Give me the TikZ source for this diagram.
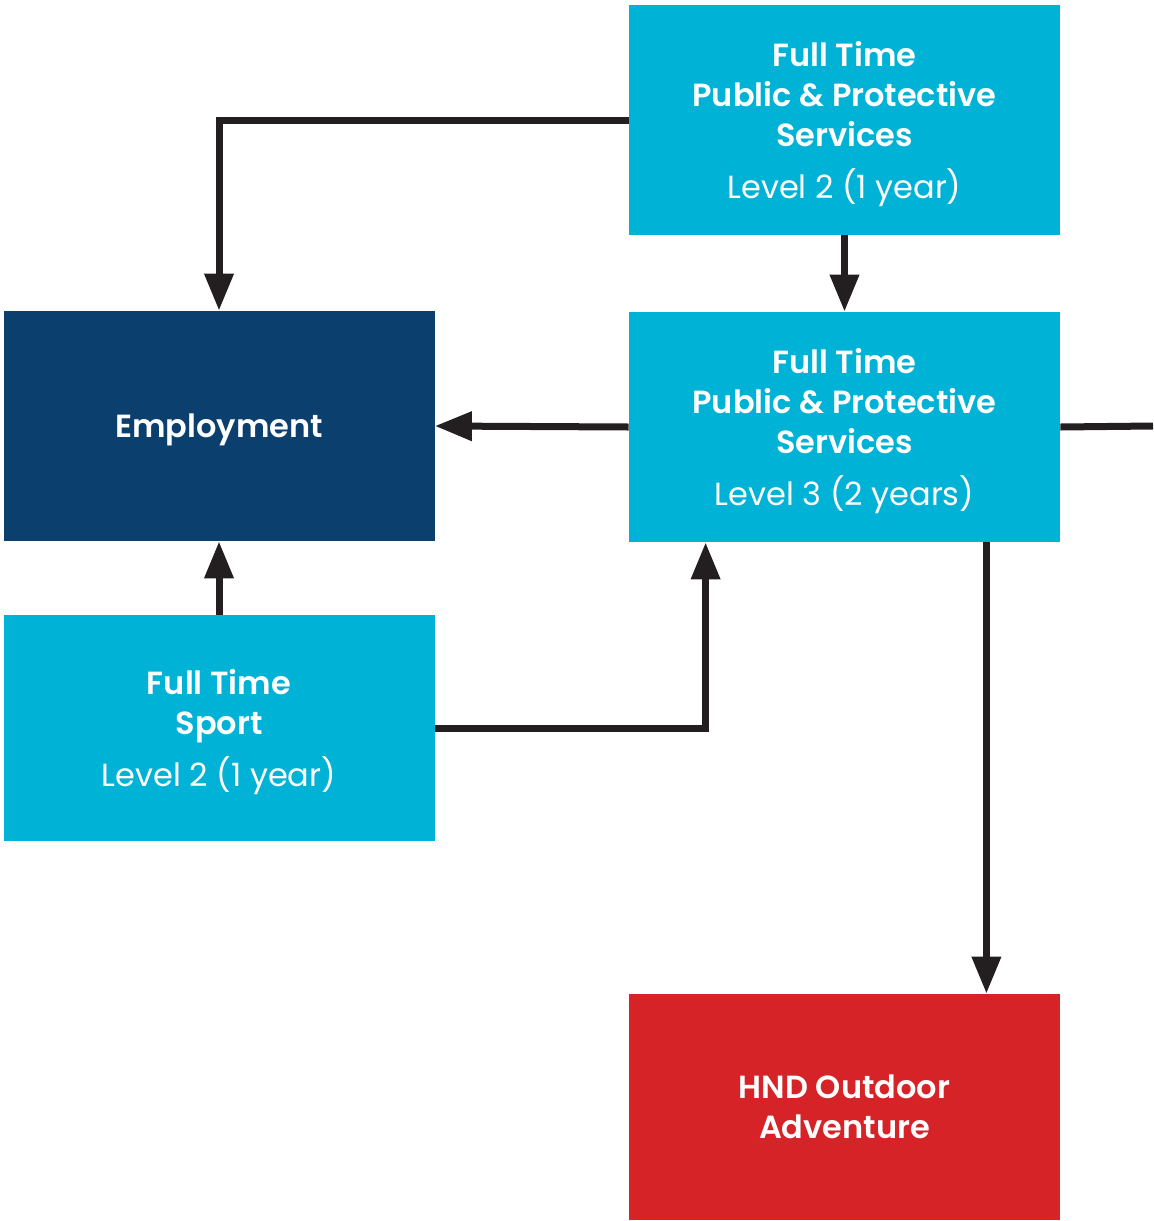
\documentclass[tikz,border=0pt]{standalone}
\usepackage{fontspec}
\setmainfont{Poppins}[BoldFont={Poppins SemiBold}]
\usetikzlibrary{arrows.meta}
\definecolor{boxcyan}{RGB}{0,179,214}
\definecolor{boxnavy}{RGB}{10,63,110}
\definecolor{boxred}{RGB}{213,35,40}
\definecolor{linedark}{RGB}{35,31,32}
\begin{document}
\begin{tikzpicture}[x=0.5pt,y=-0.5pt,
  box/.style={rectangle, draw=none, text=white, align=center, inner sep=0pt,
    minimum width=215.5pt, text depth=-1pt, font=\fontsize{16}{20}\selectfont\bfseries},
  course/.style={box, fill=boxcyan, minimum height=115pt},
  goal/.style={box, fill=boxnavy, minimum height=115pt},
  award/.style={box, fill=boxred, minimum height=113pt},
  flow/.style={draw=linedark, line width=3.5pt, -{Triangle[length=18.5pt,width=14pt]}},
  link/.style={draw=linedark, line width=3.5pt}]
\useasboundingbox (0,0) rectangle (1153,1221);
\node [course] (l2pps) at (844.5,120) {Full Time\\Public \& Protective\\Services\\[6pt]{\mdseries Level 2 (1 year)}};
\node [course] (l3pps) at (844.5,427) {Full Time\\Public \& Protective\\Services\\[6pt]{\mdseries Level 3 (2 years)}};
\node [goal] (emp) at (219,426) {Employment};
\node [course, minimum height=113pt] (sport) at (219,728) {Full Time\\Sport\\[6pt]{\mdseries Level 2 (1 year)}};
\node [award] (hnd) at (844.5,1107) {HND Outdoor\\Adventure};
\coordinate (offright) at (1153,426);
\draw [flow] (l2pps.west) -| (emp.north);
\draw [flow] (l2pps.south) -- (l3pps.north);
\draw [flow] (l3pps.west) -- (emp.east);
\draw [link] (l3pps.east) -- (offright);
\draw [flow] (sport.north) -- (emp.south);
\draw [flow] (sport.east) -| ([xshift=38.5pt]l3pps.south west);
\draw [flow] ([xshift=-37pt]l3pps.south east) -- ([xshift=-37pt]hnd.north east);
\end{tikzpicture}
\end{document}
